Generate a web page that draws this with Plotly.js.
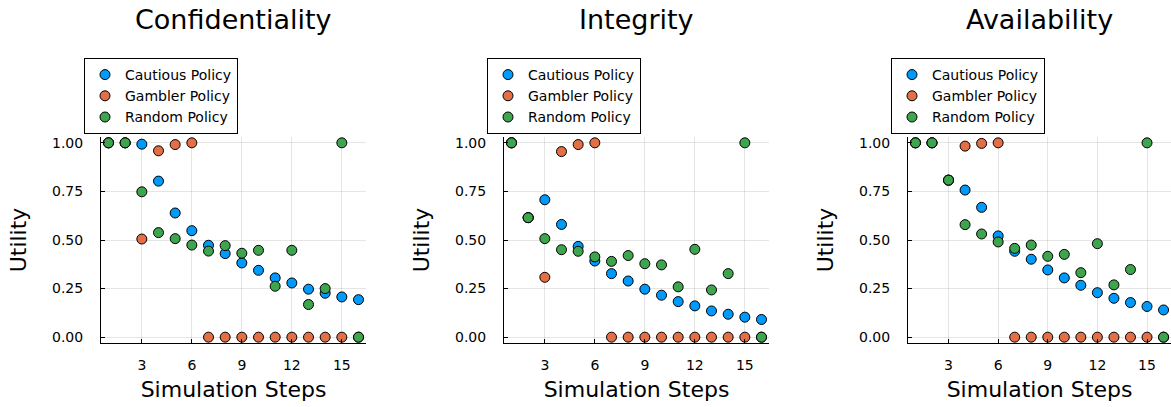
<!DOCTYPE html>
<html>
<head>
<meta charset="utf-8">
<script src="https://cdn.plot.ly/plotly-3.0.1.min.js"></script>
<style>html,body{margin:0;padding:0;background:#fff;}#chart{width:1171px;height:407px;}</style>
</head>
<body>
<div id="chart"></div>
<script>
const steps = [1,2,3,4,5,6,7,8,9,10,11,12,13,14,15,16];
const seriesNames = ["Cautious Policy", "Gambler Policy", "Random Policy"];
const panelTitles = ["Confidentiality", "Integrity", "Availability"];
const xTickVals = [3, 6, 9, 12, 15];
const yTickVals = [0, 0.25, 0.5, 0.75, 1.0];
const yTickText = ["0.00", "0.25", "0.50", "0.75", "1.00"];

const confCautious = [1, 1, 0.993, 0.803, 0.639, 0.548, 0.473, 0.430, 0.382, 0.344, 0.305, 0.279, 0.247, 0.226, 0.207, 0.193];
const confGambler  = [1, 1, 0.505, 0.959, 0.991, 1.0, 0, 0, 0, 0, 0, 0, 0, 0, 0, 0];
const confRandom   = [1, 1, 0.748, 0.538, 0.507, 0.474, 0.443, 0.471, 0.432, 0.447, 0.262, 0.447, 0.168, 0.250, 1.0, 0];

const intCautious = [1, 0.615, 0.707, 0.580, 0.467, 0.392, 0.327, 0.289, 0.247, 0.216, 0.183, 0.161, 0.135, 0.118, 0.103, 0.091];
const intGambler  = [1, 0.615, 0.308, 0.955, 0.991, 1.0, 0, 0, 0, 0, 0, 0, 0, 0, 0, 0];
const intRandom   = [1, 0.615, 0.507, 0.450, 0.442, 0.413, 0.390, 0.420, 0.378, 0.372, 0.259, 0.452, 0.243, 0.327, 1.0, 0];

const avCautious = [1, 1, 0.808, 0.757, 0.668, 0.521, 0.442, 0.401, 0.346, 0.305, 0.267, 0.229, 0.200, 0.178, 0.158, 0.140];
const avGambler  = [1, 1, 0.808, 0.983, 0.997, 1.0, 0, 0, 0, 0, 0, 0, 0, 0, 0, 0];
const avRandom   = [1, 1, 0.808, 0.579, 0.531, 0.490, 0.457, 0.474, 0.416, 0.426, 0.332, 0.481, 0.269, 0.348, 1.0, 0];

const colors = ["#009AFA", "#E26F46", "#3EA44E"];
const panels = [
  [confCautious, confGambler, confRandom],
  [intCautious, intGambler, intRandom],
  [avCautious, avGambler, avRandom]
];

const W = 1171, H = 407;
const FONT = "DejaVu Sans, sans-serif";
const xDomainsPx = [[101, 366], [504, 769], [908, 1171]];
const yDomain = [(H - 343) / H, (H - 137) / H];
const legendLeftPx = [84, 487, 891];

const traces = [];
panels.forEach((panel, p) => {
  const sfx = p === 0 ? "" : String(p + 1);
  panel.forEach((vals, s) => {
    traces.push({
      type: "scatter",
      mode: "markers",
      x: steps,
      y: vals,
      name: seriesNames[s],
      xaxis: "x" + sfx,
      yaxis: "y" + sfx,
      legend: "legend" + sfx,
      cliponaxis: false,
      marker: {color: colors[s], size: 10, line: {color: "#000", width: 1}},
      hoverinfo: "x+y+name"
    });
  });
});

const layout = {
  width: W, height: H,
  margin: {l: 0, r: 0, t: 0, b: 0},
  paper_bgcolor: "#fff",
  plot_bgcolor: "#fff",
  font: {family: FONT, size: 14, color: "#000"},
  showlegend: true,
  annotations: [],
  hovermode: "closest"
};

panels.forEach((panel, p) => {
  const sfx = p === 0 ? "" : String(p + 1);
  const dom = [xDomainsPx[p][0] / W, Math.min(1, xDomainsPx[p][1] / W)];
  layout["xaxis" + sfx] = {
    domain: dom,
    anchor: "y" + sfx,
    range: [0.55, 16.45],
    tickmode: "array",
    tickvals: xTickVals,
    ticks: "inside",
    ticklen: 4,
    tickcolor: "#000",
    showline: true,
    linecolor: "#000",
    linewidth: 1,
    showgrid: true,
    gridcolor: "rgba(0,0,0,0.1)",
    gridwidth: 1,
    zeroline: false,
    ticklabelstandoff: 9,
    tickfont: {family: FONT, size: 14, color: "#000"},
    title: {text: "Simulation Steps", font: {family: FONT, size: 22, color: "#000"}, standoff: 9},
    automargin: false
  };
  layout["yaxis" + sfx] = {
    domain: yDomain,
    anchor: "x" + sfx,
    range: [-0.03, 1.03],
    tickmode: "array",
    tickvals: yTickVals,
    ticktext: yTickText,
    ticks: "inside",
    ticklen: 4,
    tickcolor: "#000",
    showline: true,
    linecolor: "#000",
    linewidth: 1,
    showgrid: true,
    gridcolor: "rgba(0,0,0,0.1)",
    gridwidth: 1,
    zeroline: false,
    ticklabelstandoff: 14,
    tickfont: {family: FONT, size: 14, color: "#000"},
    title: {text: "Utility", font: {family: FONT, size: 22, color: "#000"}, standoff: 19},
    automargin: false
  };
  layout["legend" + sfx] = {
    x: legendLeftPx[p] / W,
    y: (H - 58) / H,
    xanchor: "left",
    yanchor: "top",
    xref: "paper",
    yref: "paper",
    bgcolor: "#fff",
    bordercolor: "#000",
    borderwidth: 1,
    font: {family: FONT, size: 14, color: "#000"},
    itemwidth: 30,
    tracegroupgap: 0,
    traceorder: "normal"
  };
  layout.annotations.push({
    text: panelTitles[p],
    xref: "paper", yref: "paper",
    x: (dom[0] + dom[1]) / 2,
    y: (H - 20) / H,
    xanchor: "center", yanchor: "middle",
    showarrow: false,
    font: {family: FONT, size: 27, color: "#000"}
  });
});

Plotly.newPlot("chart", traces, layout, {displayModeBar: false, staticPlot: false});
</script>
</body>
</html>
